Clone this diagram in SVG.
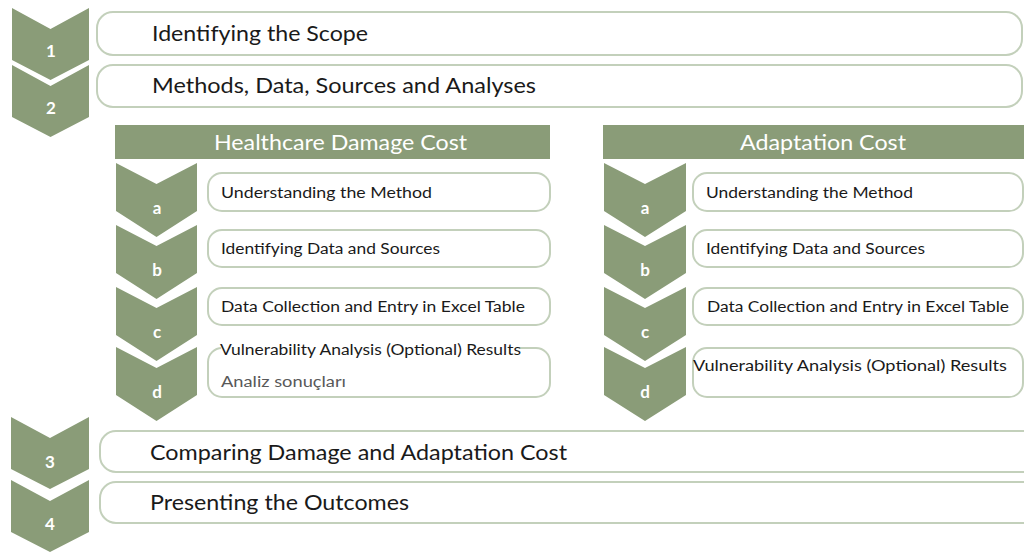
<svg xmlns="http://www.w3.org/2000/svg" width="1024" height="556" viewBox="0 0 1024 556">
<style>
.chev{fill:#8a9c78}
.hdr{fill:#8a9c78}
.box{fill:#ffffff;stroke:#c3d0bb;stroke-width:2}
.num{font-family:Lato,"Open Sans","Liberation Sans",sans-serif;font-weight:bold;fill:#ffffff;text-anchor:middle;font-size:17px}
.big{font-family:Lato,"Open Sans","Liberation Sans",sans-serif;font-size:21px;fill:#1a1a1a}
.hd{font-family:Lato,"Open Sans","Liberation Sans",sans-serif;font-size:21px;fill:#ffffff}
.sm{font-family:Lato,"Open Sans","Liberation Sans",sans-serif;font-size:14.5px;fill:#1a1a1a}
.gr{fill:#595959}
</style>
<rect width="1024" height="556" fill="#ffffff"/>

<g id="step1">
<rect class="box" x="97" y="12" width="925" height="43" rx="16"/>
<polygon class="chev" points="12,8 50.5,29 89,8 89,60 50.5,80 12,60"/>
<text class="num" x="51" y="57">1</text>
<text class="big" x="152" y="41" textLength="216" lengthAdjust="spacingAndGlyphs">Identifying the Scope</text>
</g>

<g id="step2">
<rect class="box" x="97" y="65" width="925" height="42" rx="16"/>
<polygon class="chev" points="12,65 50.5,86 89,65 89,117 50.5,137 12,117"/>
<text class="num" x="51" y="114">2</text>
<text class="big" x="152" y="93" textLength="384" lengthAdjust="spacingAndGlyphs">Methods, Data, Sources and Analyses</text>
</g>

<g id="header-healthcare">
<rect class="hdr" x="115" y="125" width="435" height="34"/>
<text class="hd" x="214" y="150" textLength="253" lengthAdjust="spacingAndGlyphs">Healthcare Damage Cost</text>
</g>

<g id="header-adaptation">
<rect class="hdr" x="603" y="125" width="421" height="34"/>
<text class="hd" x="740" y="150" textLength="166" lengthAdjust="spacingAndGlyphs">Adaptation Cost</text>
</g>

<g id="hc-a">
<rect class="box" x="208" y="173" width="342" height="38" rx="14"/>
<polygon class="chev" points="116,163 156.5,184 197,163 197,211 156.5,237 116,211"/>
<text class="num" x="157" y="214">a</text>
<text class="sm" x="221" y="198" textLength="211" lengthAdjust="spacingAndGlyphs">Understanding the Method</text>
</g>
<g id="hc-b">
<rect class="box" x="208" y="230" width="342" height="37" rx="14"/>
<polygon class="chev" points="116,225 156.5,246 197,225 197,273 156.5,299 116,273"/>
<text class="num" x="157" y="276">b</text>
<text class="sm" x="221" y="254" textLength="219" lengthAdjust="spacingAndGlyphs">Identifying Data and Sources</text>
</g>
<g id="hc-c">
<rect class="box" x="208" y="288" width="342" height="37" rx="14"/>
<polygon class="chev" points="116,287 156.5,308 197,287 197,335 156.5,361 116,335"/>
<text class="num" x="157" y="338">c</text>
<text class="sm" x="221" y="312" textLength="304" lengthAdjust="spacingAndGlyphs">Data Collection and Entry in Excel Table</text>
</g>
<g id="hc-d">
<rect class="box" x="208" y="348" width="342" height="49" rx="14"/>
<rect x="221" y="344" width="298" height="9" fill="#ffffff"/>
<polygon class="chev" points="116,347 156.5,368 197,347 197,395 156.5,421 116,395"/>
<text class="num" x="157" y="398">d</text>
<text class="sm" x="220" y="355" textLength="301" lengthAdjust="spacingAndGlyphs">Vulnerability Analysis (Optional) Results</text>
<text class="sm gr" x="221" y="387" textLength="125" lengthAdjust="spacingAndGlyphs">Analiz sonuçları</text>
</g>

<g id="ad-a">
<rect class="box" x="693" y="173" width="330" height="38" rx="14"/>
<polygon class="chev" points="604,163 645,184 686,163 686,211 645,237 604,211"/>
<text class="num" x="645" y="214">a</text>
<text class="sm" x="706" y="198" textLength="207" lengthAdjust="spacingAndGlyphs">Understanding the Method</text>
</g>
<g id="ad-b">
<rect class="box" x="693" y="230" width="330" height="37" rx="14"/>
<polygon class="chev" points="604,225 645,246 686,225 686,273 645,299 604,273"/>
<text class="num" x="645" y="276">b</text>
<text class="sm" x="706" y="254" textLength="219" lengthAdjust="spacingAndGlyphs">Identifying Data and Sources</text>
</g>
<g id="ad-c">
<rect class="box" x="693" y="288" width="330" height="37" rx="14"/>
<polygon class="chev" points="604,287 645,308 686,287 686,335 645,361 604,335"/>
<text class="num" x="645" y="338">c</text>
<text class="sm" x="707" y="312" textLength="302" lengthAdjust="spacingAndGlyphs">Data Collection and Entry in Excel Table</text>
</g>
<g id="ad-d">
<rect class="box" x="693" y="348" width="330" height="49" rx="14"/>
<polygon class="chev" points="604,347 645,368 686,347 686,395 645,421 604,395"/>
<text class="num" x="645" y="398">d</text>
<text class="sm" x="693" y="371" textLength="314" lengthAdjust="spacingAndGlyphs">Vulnerability Analysis (Optional) Results</text>
</g>

<g id="step3">
<rect class="box" x="100" y="431" width="940" height="41" rx="16"/>
<polygon class="chev" points="11,417 50,438 89,417 89,469 50,489 11,469"/>
<text class="num" x="50" y="468">3</text>
<text class="big" x="150" y="460" textLength="417" lengthAdjust="spacingAndGlyphs">Comparing Damage and Adaptation Cost</text>
</g>

<g id="step4">
<rect class="box" x="100" y="482" width="940" height="41" rx="16"/>
<polygon class="chev" points="11,480 50,501 89,480 89,532 50,552 11,532"/>
<text class="num" x="50" y="530">4</text>
<text class="big" x="150" y="510" textLength="259" lengthAdjust="spacingAndGlyphs">Presenting the Outcomes</text>
</g>

<g id="connectors"></g>
</svg>
